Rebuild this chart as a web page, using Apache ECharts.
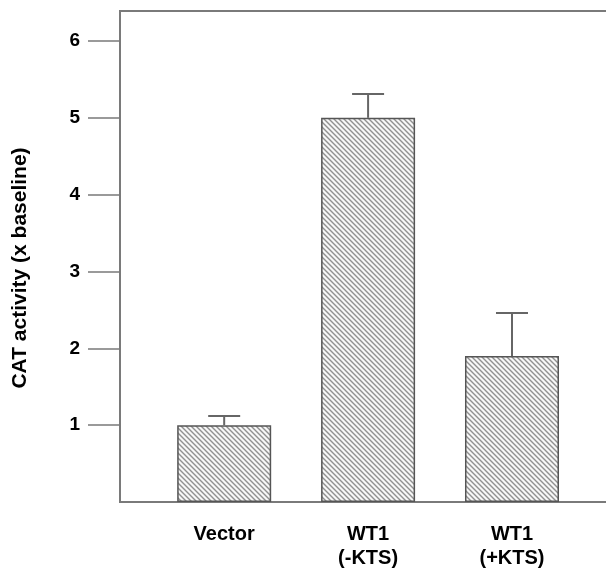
<!DOCTYPE html>
<html>
<head>
<meta charset="utf-8">
<script src="https://cdn.jsdelivr.net/npm/echarts@6/dist/echarts.min.js"></script>
<style>
html,body{margin:0;padding:0;background:#fff;}
#chart{width:606px;height:573px;}
</style>
</head>
<body>
<div id="chart"></div>
<script>
// Data
var categories = ['Vector', 'WT1\n(-KTS)', 'WT1\n(+KTS)'];
var values = [1.0, 5.0, 1.9];
var errorTops = [1.12, 5.31, 2.46];
var yTicks = [1, 2, 3, 4, 5, 6];

// Hatch pattern
function makeHatch() {
  var n = 5;
  var c = document.createElement('canvas');
  c.width = n; c.height = n;
  var ctx = c.getContext('2d');
  ctx.fillStyle = '#f7f7f7';
  ctx.fillRect(0, 0, n, n);
  ctx.strokeStyle = '#909090';
  ctx.lineWidth = 1.4;
  ctx.beginPath();
  ctx.moveTo(-1, -1); ctx.lineTo(n + 1, n + 1);
  ctx.moveTo(-1, n - 1); ctx.lineTo(1, n + 1);
  ctx.moveTo(n - 1, -1); ctx.lineTo(n + 1, 1);
  ctx.stroke();
  return c;
}

var barData = values.map(function (v, i) { return [i, v]; });
var errData = values.map(function (v, i) { return [i, v, errorTops[i]]; });

var chart = echarts.init(document.getElementById('chart'));
var font = '"Liberation Sans", Arial, Helvetica, sans-serif';
chart.setOption({
  animation: false,
  grid: {
    left: 120, top: 11, width: 492, bottom: 71,
    outerBoundsMode: 'none',
    containLabel: false,
    show: true, borderColor: '#7a7a7a', borderWidth: 2
  },
  xAxis: {
    type: 'value',
    min: -0.724, max: 2.695,
    axisLine: { show: true, onZero: false, lineStyle: { color: '#7a7a7a', width: 2 } },
    axisTick: { show: false },
    splitLine: { show: false },
    axisLabel: {
      customValues: [0, 1, 2],
      formatter: function (v) { return categories[Math.round(v)]; },
      color: '#000', fontFamily: font, fontWeight: 'bold', fontSize: 20,
      lineHeight: 24, margin: 20
    }
  },
  yAxis: {
    type: 'value',
    min: 0, max: 6.39,
    axisLine: { show: true, onZero: false, lineStyle: { color: '#7a7a7a', width: 2 } },
    axisTick: { show: true, customValues: yTicks, length: 32, lineStyle: { color: '#7a7a7a', width: 1.5 } },
    splitLine: { show: false },
    axisLabel: {
      customValues: yTicks,
      color: '#000', fontFamily: font, fontWeight: 'bold', fontSize: 19, margin: 40
    }
  },
  graphic: [{
    type: 'text',
    x: 20, y: 268,
    rotation: Math.PI / 2,
    style: {
      text: 'CAT activity (x baseline)',
      fill: '#000',
      font: 'bold 21px ' + font,
      textAlign: 'center',
      textVerticalAlign: 'middle'
    }
  }],
  series: [{
    type: 'bar',
    data: barData,
    barWidth: 94,
    itemStyle: {
      color: { image: makeHatch(), repeat: 'repeat' },
      borderColor: '#555',
      borderWidth: 1.5
    }
  }, {
    type: 'custom',
    data: errData,
    renderItem: function (params, api) {
      var x = api.value(0);
      var base = api.coord([x, api.value(1)]);
      var top = api.coord([x, api.value(2)]);
      var half = 16;
      var st = { stroke: '#666', lineWidth: 2 };
      return {
        type: 'group',
        children: [
          { type: 'line', shape: { x1: base[0], y1: base[1], x2: top[0], y2: top[1] }, style: st },
          { type: 'line', shape: { x1: top[0] - half, y1: top[1], x2: top[0] + half, y2: top[1] }, style: st }
        ]
      };
    }
  }]
});
</script>
</body>
</html>
